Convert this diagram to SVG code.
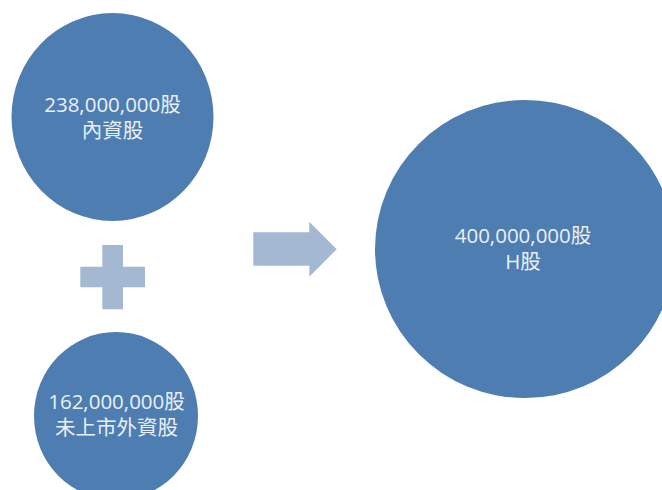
<svg xmlns="http://www.w3.org/2000/svg" width="662" height="490" viewBox="0 0 662 490">
<style>
.c{fill:#4E7DB1}
.s{fill:#A5B8D2}
.t{fill:#EAF0F7;font-family:"Open Sans","Noto Sans CJK TC",sans-serif;font-size:20.5px;text-anchor:middle}
</style>
<rect width="662" height="490" fill="#FFFFFF"/>
<g id="node-domestic">
<ellipse class="c" cx="112.5" cy="117" rx="101" ry="104"/>
<text class="t" x="112.5" y="112">238,000,000股</text>
<text class="t" x="112.5" y="138">內資股</text>
</g>
<g id="node-foreign">
<ellipse class="c" cx="116" cy="416" rx="82" ry="84"/>
<text class="t" x="116.5" y="409">162,000,000股</text>
<text class="t" x="116.5" y="435">未上市外資股</text>
</g>
<g id="node-h">
<ellipse class="c" cx="525" cy="249" rx="150" ry="149"/>
<text class="t" x="523" y="243">400,000,000股</text>
<text class="t" x="523" y="269">H股</text>
</g>
<g id="connectors">
<path class="s" d="M102.3,245H123V266.7H145V287.3H123V309.3H102.3V287.3H80.3V266.7H102.3Z"/>
<path class="s" d="M253.3,232.3H309.3V221.7L336.7,249.2L309.3,276.7V265.7H253.3Z"/>
</g>
</svg>
